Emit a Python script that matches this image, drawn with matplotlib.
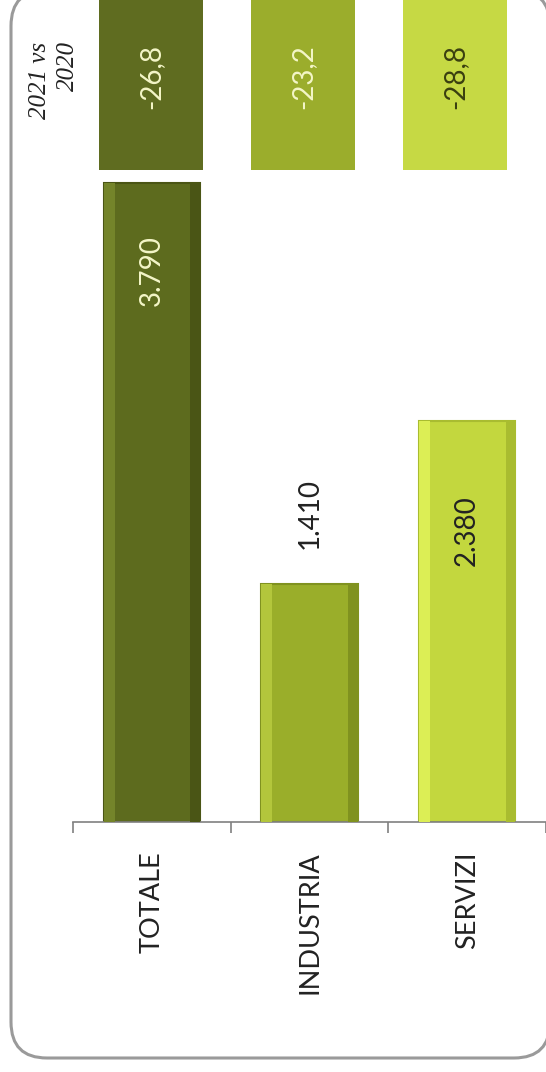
import matplotlib
matplotlib.use('Agg')
from matplotlib import pyplot as plt
from matplotlib.patches import FancyBboxPatch

categories = ['TOTALE', 'INDUSTRIA', 'SERVIZI']
values = [3790, 1410, 2380]
value_labels = ['3.790', '1.410', '2.380']
changes = ['-26,8', '-23,2', '-28,8']
change_title = '2021 vs\n2020'

bar_colors = ['#5d6b1e', '#9aae2a', '#c3d73e']
bar_light = ['#74842a', '#b3c63c', '#dcee55']
bar_dark = ['#4a5515', '#80921f', '#a9bc30']
box_colors = ['#5f6c20', '#9bad2c', '#c6d944']
text_colors = ['#f4f6c8', '#222222', '#222222']
box_text_colors = ['#f4f6c8', '#f4f6c8', '#3a3f10']
# label offsets (points) from the bar top, rotated text
label_offsets = [-63, 51, -79]

W, H = 546, 1072
fig = plt.figure(figsize=(W / 100, H / 100), dpi=100)
plt.rcParams['font.family'] = ['Lato', 'DejaVu Sans']

# background frame in pixel coordinates
bg = fig.add_axes([0, 0, 1, 1], zorder=0)
bg.set_xlim(0, W)
bg.set_ylim(H, 0)
bg.axis('off')
frame = FancyBboxPatch((11, -10), 539, 1068, boxstyle='round,pad=0,rounding_size=36',
                       facecolor='white', edgecolor='#9a9a9a', linewidth=2.2)
bg.add_patch(frame)
bg.text(54, 80, change_title, rotation=90, ha='center', va='center', multialignment='right',
        fontsize=18, style='italic', family=['Liberation Serif', 'DejaVu Serif'],
        color='#222222', linespacing=1.3)

# main bar chart
x0, x1 = 73, 546
base = 822
scale = 0.1686  # px per unit
ymax = 4000
top = base - ymax * scale
ax = fig.add_axes([x0 / W, 1 - base / H, (x1 - x0) / W, (base - top) / H], zorder=1)
ax.patch.set_alpha(0)
xs = list(range(len(categories)))
w = 0.61
ax.bar(xs, values, width=w, color=bar_colors, edgecolor=bar_dark, linewidth=1.5, zorder=2)
# bevel highlights
ax.bar([x - w / 2 + 0.035 for x in xs], values, width=0.07, color=bar_light, linewidth=0, zorder=3)
ax.bar([x + w / 2 - 0.03 for x in xs], values, width=0.06, color=bar_dark, linewidth=0, zorder=3)
ax.set_xlim(-0.5, 2.5)
ax.set_ylim(0, ymax)

for x, v, lab, c, off in zip(xs, values, value_labels, text_colors, label_offsets):
    ax.annotate(lab, (x, v), xytext=(0, off), textcoords='offset points',
                rotation=90, ha='center', va='center', fontsize=20, color=c, zorder=4)

for s in ['top', 'right', 'left']:
    ax.spines[s].set_visible(False)
ax.spines['bottom'].set_color('#808080')
ax.spines['bottom'].set_linewidth(1.2)
ax.set_yticks([])
ax.set_xticks([-0.5, 0.5, 1.5, 2.5])
ax.set_xticklabels([])
ax.tick_params(axis='x', length=8, width=1.2, color='#808080', direction='out')

for x, cat in zip(xs, categories):
    ax.annotate(cat, (x, 0), xytext=(0, -21), textcoords='offset points',
                rotation=90, ha='center', va='top', fontsize=19.5, color='#222222')

# top boxes with change
bx0, bx1 = 75, 531
box_h = 170
ax2 = fig.add_axes([bx0 / W, 1 - box_h / H, (bx1 - bx0) / W, box_h / H], zorder=1)
ax2.patch.set_alpha(0)
ax2.bar(xs, [1] * len(xs), width=0.68, color=box_colors, linewidth=0)
ax2.set_xlim(-0.5, 2.5)
ax2.set_ylim(0, 1)
ax2.axis('off')
for x, lab, c in zip(xs, changes, box_text_colors):
    ax2.text(x, 0.55, lab, rotation=90, ha='center', va='center', fontsize=20, color=c)

plt.savefig('out.png', dpi=100)
